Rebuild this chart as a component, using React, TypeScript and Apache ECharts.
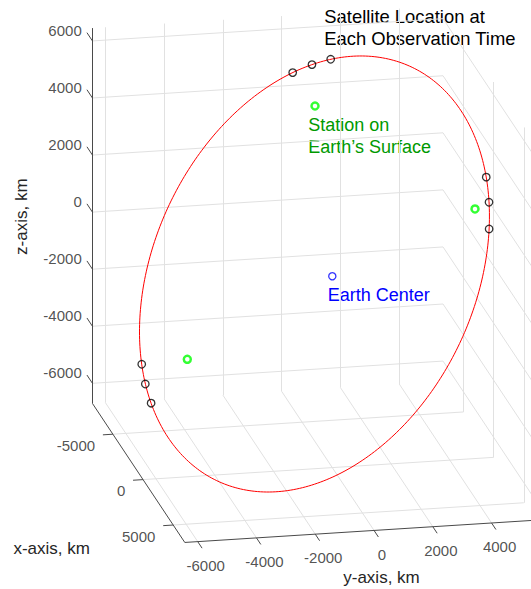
import React, { useEffect, useRef } from "react";
import * as echarts from "echarts";

// ---- view (MATLAB-style azimuth / elevation, degrees) ----
const VIEW_AZ = 78.4;
const VIEW_EL = 18;

// ---- axis limits (km) and tick values ----
const xLimits = [-8390, 6920];
const yLimits = [-6440, 5490];
const zLimits = [-6705, 6450];
const xTicks = [-5000, 0, 5000];
const yTicks = [-6000, -4000, -2000, 0, 2000, 4000];
const zTicks = [-6000, -4000, -2000, 0, 2000, 4000, 6000];

// ---- satellite positions at each observation time (km) ----
const satX = [-6171, -5673, -5134, 3140, 3826, 4454, -4699, -4111, -3457];
const satY = [-81, 473, 999, 4594, 4547, 4422, -5520, -5519, -5456];
const satZ = [5181, 5583, 5906, 4174, 3514, 2788, -4219, -4723, -5191];

// ---- tracking stations on Earth's surface (km) ----
const stationX = [-4489, 3639, -3030];
const stationY = [333, 4109, -4312];
const stationZ = [4518, 3249, -3592];

// ---- Earth center (km) ----
const earthCenter = [0, 0, 0];

// ---- orbit: ellipse center, semi-major and semi-minor vectors (km) ----
const orbitCenter = [-686, -466, -107];
const orbitSemiMajorVec = [6290, 4269, 980];
const orbitSemiMinorVec = [-2858, 2716, 6518];

// ---- layout ----
const W = 531;
const H = 589;
const KM_PER_PX = 1000 / 30;
const ORIGIN_PX = [332.3, 276.3];
const FONT = '"Liberation Sans", Arial, Helvetica, sans-serif';

const az = (VIEW_AZ * Math.PI) / 180;
const el = (VIEW_EL * Math.PI) / 180;

function project(p: number[]): number[] {
  const [x, y, z] = p;
  const h = Math.cos(az) * x + Math.sin(az) * y;
  const v =
    -Math.sin(el) * Math.sin(az) * x +
    Math.sin(el) * Math.cos(az) * y +
    Math.cos(el) * z;
  return [h, v];
}

export default function App() {
  const ref = useRef<HTMLDivElement>(null);

  useEffect(() => {
    if (!ref.current) return;
    const chart = echarts.init(ref.current, undefined, { renderer: "svg" });

    const [x0, x1] = xLimits;
    const [y0, y1] = yLimits;
    const [z0, z1] = zLimits;
    const seg = (a: number[], b: number[]) => ({ coords: [project(a), project(b)] });

    const gridSegs = [
      ...xTicks.map((x) => seg([x, y0, z0], [x, y1, z0])),
      ...yTicks.map((y) => seg([x0, y, z0], [x1, y, z0])),
      ...yTicks.map((y) => seg([x0, y, z0], [x0, y, z1])),
      ...zTicks.map((z) => seg([x0, y0, z], [x0, y1, z])),
      ...xTicks.map((x) => seg([x, y1, z0], [x, y1, z1])),
      ...zTicks.map((z) => seg([x0, y1, z], [x1, y1, z])),
    ];

    const axisSegs = [
      seg([x0, y0, z0], [x0, y0, z1]),
      seg([x0, y0, z0], [x1, y0, z0]),
      seg([x1, y0, z0], [x1, y1, z0]),
    ];

    const Z_TICK_LEN = 910;
    const X_TICK_LEN = 340;
    const Y_TICK_LEN = 720;
    const tickSegs = [
      ...zTicks.map((z) => seg([x0, y0, z], [x0 - Z_TICK_LEN, y0, z])),
      ...xTicks.map((x) => seg([x, y0, z0], [x, y0 - X_TICK_LEN, z0])),
      ...yTicks.map((y) => seg([x1, y, z0], [x1 + Y_TICK_LEN, y, z0])),
    ];

    const orbitParam = Array.from({ length: 361 }, (_, i) => (i * Math.PI) / 180);
    const orbitPts = orbitParam.map((t) =>
      project(
        [0, 1, 2].map(
          (k) =>
            orbitCenter[k] +
            orbitSemiMajorVec[k] * Math.cos(t) +
            orbitSemiMinorVec[k] * Math.sin(t)
        )
      )
    );

    const satPts = satX.map((x, i) => project([x, satY[i], satZ[i]]));
    const stationPts = stationX.map((x, i) => project([x, stationY[i], stationZ[i]]));
    const centerPts = [project(earthCenter)];

    const tickLabelStyle = {
      show: true,
      fontSize: 15,
      fontFamily: FONT,
      color: "#262626",
      formatter: (p: any) => String(p.value[2]),
    };
    const labelSeries = (data: number[][], position: number[], align: string) => ({
      type: "scatter",
      data,
      symbol: "circle",
      symbolSize: 1,
      silent: true,
      itemStyle: { color: "rgba(0,0,0,0)" },
      label: { ...tickLabelStyle, position, align, verticalAlign: "middle" },
      z: 5,
    });

    const zLabelData = zTicks.map((z) => [...project([x0, y0, z]), z]);
    const xLabelData = xTicks.map((x) => [...project([x, y0, z0]), x]);
    const yLabelData = yTicks.map((y) => [...project([x1, y, z0]), y]);

    const ox = ORIGIN_PX[0];
    const oy = ORIGIN_PX[1];

    const txt = (text: string, x: number, y: number, size: number, fill: string, align: string, rotation = 0) => ({
      type: "text",
      x,
      y,
      rotation,
      silent: true,
      style: { text, fontSize: size, fontFamily: FONT, fill, align, verticalAlign: "middle" },
    });

    chart.setOption({
      animation: false,
      backgroundColor: "#ffffff",
      grid: { left: 0, right: 0, top: 0, bottom: 0 },
      xAxis: {
        type: "value",
        min: -ox * KM_PER_PX,
        max: (W - ox) * KM_PER_PX,
        show: false,
      },
      yAxis: {
        type: "value",
        min: -(H - oy) * KM_PER_PX,
        max: oy * KM_PER_PX,
        show: false,
      },
      series: [
        {
          type: "lines",
          coordinateSystem: "cartesian2d",
          data: gridSegs,
          silent: true,
          lineStyle: { color: "#e1e1e1", width: 1, opacity: 1 },
          z: 1,
        },
        {
          type: "lines",
          coordinateSystem: "cartesian2d",
          data: [...axisSegs, ...tickSegs],
          silent: true,
          lineStyle: { color: "#4a4a4a", width: 1, opacity: 1 },
          z: 2,
        },
        {
          type: "line",
          data: orbitPts,
          showSymbol: false,
          silent: true,
          lineStyle: { color: "#ff0000", width: 1 },
          z: 3,
        },
        {
          type: "scatter",
          data: satPts,
          symbol: "circle",
          symbolSize: 7.5,
          itemStyle: { color: "rgba(0,0,0,0)", borderColor: "#000000", borderWidth: 1.3 },
          z: 4,
        },
        {
          type: "scatter",
          data: stationPts,
          symbol: "circle",
          symbolSize: 7,
          itemStyle: { color: "rgba(0,0,0,0)", borderColor: "#00ff00", borderWidth: 2.5 },
          z: 4,
        },
        {
          type: "scatter",
          data: centerPts,
          symbol: "circle",
          symbolSize: 7.2,
          itemStyle: { color: "rgba(0,0,0,0)", borderColor: "#0000ff", borderWidth: 1.3 },
          z: 4,
        },
        labelSeries(zLabelData, [-10.2, -10], "right"),
        labelSeries(xLabelData, [-17.3, 11.5], "right"),
        labelSeries(yLabelData, [8.5, 24.1], "center"),
      ],
      graphic: [
        txt("z-axis, km", 21.7, 216.7, 17, "#262626", "center", Math.PI / 2),
        txt("x-axis, km", 51.7, 548.3, 17, "#262626", "center"),
        txt("y-axis, km", 381.5, 577, 17, "#262626", "center"),
        txt("Satellite Location at", 324.3, 16.3, 18.4, "#000000", "left"),
        txt("Each Observation Time", 324.3, 38.7, 18.4, "#000000", "left"),
        txt("Station on", 308.3, 125.3, 18, "#009900", "left"),
        txt("Earth\u2019s Surface", 308.3, 147, 18, "#009900", "left"),
        txt("Earth Center", 327.7, 295, 18, "#0000ff", "left"),
      ],
    });

    return () => {
      chart.dispose();
    };
  }, []);

  return (
    <div
      ref={ref}
      style={{ position: "absolute", left: 0, top: 0, width: W, height: H, background: "#fff" }}
    />
  );
}
